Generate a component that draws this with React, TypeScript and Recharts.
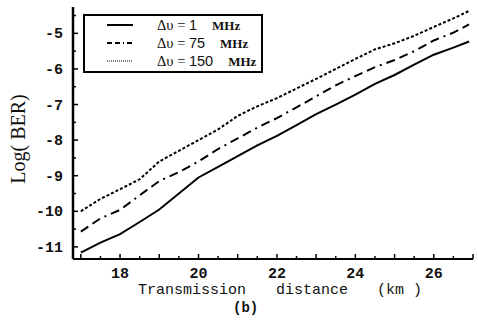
import React from "react";
import { LineChart, Line, XAxis, YAxis, Legend, Label } from "recharts";

// distance (km)
const distance = [17, 17.5, 18, 18.5, 19, 19.5, 20, 20.5, 21, 21.5, 22, 22.5, 23, 23.5, 24, 24.5, 25, 25.5, 26, 26.5, 26.9];
// Log(BER) for linewidth 1 MHz
const ber1 = [-11.16, -10.88, -10.64, -10.3, -9.95, -9.5, -9.05, -8.75, -8.45, -8.15, -7.88, -7.58, -7.27, -7.0, -6.72, -6.42, -6.17, -5.88, -5.6, -5.4, -5.23];
// Log(BER) for linewidth 75 MHz
const ber75 = [-10.57, -10.2, -9.96, -9.55, -9.15, -8.9, -8.6, -8.25, -7.95, -7.65, -7.38, -7.08, -6.77, -6.46, -6.2, -5.95, -5.75, -5.5, -5.2, -4.98, -4.75];
// Log(BER) for linewidth 150 MHz
const ber150 = [-10.0, -9.65, -9.38, -9.1, -8.6, -8.3, -8.0, -7.7, -7.32, -7.05, -6.82, -6.55, -6.28, -6.0, -5.72, -5.45, -5.28, -5.07, -4.82, -4.58, -4.37];

const linewidths = [1, 75, 150];
const seriesKeys = ["l1", "l75", "l150"];

const xTicks = [17, 17.5, 18, 18.5, 19, 19.5, 20, 20.5, 21, 21.5, 22, 22.5, 23, 23.5, 24, 24.5, 25, 25.5, 26, 26.5, 27];
const xLabels = [18, 20, 22, 24, 26];
const yTicks = [-11, -10.5, -10, -9.5, -9, -8.5, -8, -7.5, -7, -6.5, -6, -5.5, -5, -4.5];
const yLabels = [-11, -10, -9, -8, -7, -6, -5];

const data = distance.map((d, i) => ({ d, l1: ber1[i], l75: ber75[i], l150: ber150[i] }));

const dashes = ["", "9 5 9 5 2 5", "3 2"];

const isInt = (v: number) => Math.abs(v - Math.round(v)) < 1e-6;

const BottomTick = (props: any) => {
  const { x, y, payload } = props;
  const v = payload.value;
  const len = isInt(v) ? 5 : 3;
  return (
    <g>
      <line x1={x} x2={x} y1={y} y2={y - len} stroke="#000" strokeWidth={1.5} />
      {xLabels.includes(v) && (
        <text x={x} y={y + 19} textAnchor="middle" fontFamily="'Liberation Mono', monospace" fontWeight="bold" fontSize={15} fill="#111">
          {v}
        </text>
      )}
    </g>
  );
};

const TopTick = (props: any) => {
  const { x, y, payload } = props;
  const v = payload.value;
  const len = isInt(v) ? 4 : 2;
  return <line x1={x} x2={x} y1={y} y2={y + len} stroke="#000" strokeWidth={1.5} />;
};

const LeftTick = (props: any) => {
  const { x, y, payload } = props;
  const v = payload.value;
  const len = isInt(v) ? 5 : 3;
  return (
    <g>
      <line x1={x} x2={x + len} y1={y} y2={y} stroke="#000" strokeWidth={1.5} />
      {yLabels.includes(v) && (
        <text x={x - 10} y={y + 5} textAnchor="end" fontFamily="'Liberation Mono', monospace" fontWeight="bold" fontSize={15} fill="#111">
          {v}
        </text>
      )}
    </g>
  );
};

const XTitle = (props: any) => {
  const vb = props.viewBox || { x: 73, y: 259 };
  const font = "'Liberation Mono', monospace";
  return (
    <g fill="#111" fontFamily={font} fontSize={15}>
      <text x={vb.x + 65} y={vb.y + 35}>Transmission</text>
      <text x={vb.x + 203} y={vb.y + 35}>distance</text>
      <text x={vb.x + 304} y={vb.y + 35}>(km )</text>
      <text x={vb.x + 160} y={vb.y + 53} fontSize={14} fontWeight="bold">(b)</text>
    </g>
  );
};

const YTitle = () => (
  <text x={25} y={139} transform="rotate(-90 25 139)" textAnchor="middle" fontFamily="'Liberation Serif', serif" fontSize={20} fill="#111">
    Log( BER)
  </text>
);

const renderLegend = (props: any) => {
  const payload = props.payload || [];
  return (
    <svg width={180} height={59} style={{ display: "block" }}>
      <rect x={1} y={1} width={178} height={57} fill="#fff" stroke="#000" strokeWidth={2} />
      {payload.map((entry: any, i: number) => {
        const cy = 11 + i * 18;
        return (
          <g key={i}>
            <line x1={24} x2={50} y1={cy} y2={cy} stroke="#000" strokeWidth={i === 2 ? 1.2 : 2} strokeDasharray={i === 1 ? "5 3 5 3 1 3" : i === 2 ? "1 1" : undefined} />
            <text x={74} y={cy + 5} fontSize={14.5} fill="#111">
              <tspan fontFamily="'Liberation Serif', serif">Δυ = </tspan>
              <tspan fontFamily="'Liberation Sans', sans-serif">{linewidths[i]}</tspan>
              <tspan dx={15} fontFamily="'Liberation Serif', serif" fontWeight="bold" fontSize={13}>MHz</tspan>
            </text>
          </g>
        );
      })}
    </svg>
  );
};

export default function App() {
  return (
    <div style={{ width: 478, height: 323, background: "#fff", position: "relative" }}>
      <style>{`body{margin:0;background:#fff}`}</style>
      <LineChart width={478} height={323} data={data} margin={{ top: 7, right: 5, left: 0, bottom: 0 }}>
        <XAxis xAxisId="b" dataKey="d" type="number" domain={[16.8, 27]} ticks={xTicks} interval={0} tick={<BottomTick />} tickSize={0} tickMargin={0} height={64} axisLine={{ stroke: "#000", strokeWidth: 2 }} tickLine={false}>
          <Label content={<XTitle />} />
        </XAxis>
        <XAxis xAxisId="t" orientation="top" dataKey="d" type="number" domain={[16.8, 27]} ticks={xTicks} interval={0} tick={<TopTick />} tickSize={0} tickMargin={0} height={0} axisLine={{ stroke: "#000", strokeWidth: 2 }} tickLine={false} />
        <YAxis yAxisId="l" type="number" domain={[-11.34, -4.26]} ticks={yTicks} interval={0} tick={<LeftTick />} tickSize={0} tickMargin={0} width={73} axisLine={{ stroke: "#000", strokeWidth: 2.5 }} tickLine={false}>
          <Label content={<YTitle />} />
        </YAxis>
        <YAxis yAxisId="r" orientation="right" type="number" domain={[-11.34, -4.26]} tick={false} tickLine={false} width={0} axisLine={{ stroke: "#000", strokeWidth: 1.5, strokeDasharray: "1 3" }} />
        <Legend layout="horizontal" verticalAlign="middle" align="center" content={renderLegend} wrapperStyle={{ position: "absolute", left: 83, top: 14, width: 180, height: 59 }} />
        {seriesKeys.map((k, i) => (
          <Line key={k} xAxisId="b" yAxisId="l" dataKey={k} name={`${linewidths[i]} MHz`} stroke="#000" strokeWidth={2} strokeDasharray={dashes[i] || undefined} dot={false} isAnimationActive={false} type="linear" />
        ))}
      </LineChart>
    </div>
  );
}
